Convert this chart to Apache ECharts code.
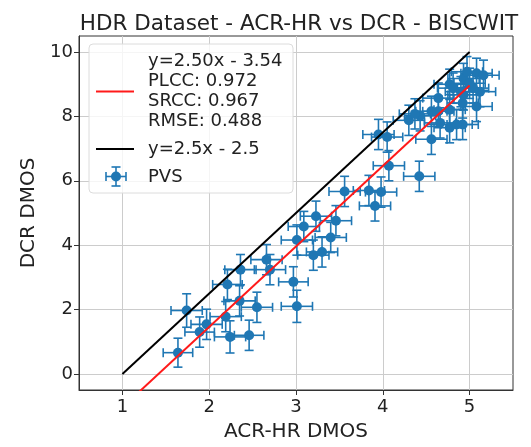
<!DOCTYPE html>
<html>
<head>
<meta charset="utf-8">
<script src="https://cdn.jsdelivr.net/npm/echarts@6/dist/echarts.min.js"></script>
<style>html,body{margin:0;padding:0;background:#fff}#c{width:531px;height:447px}</style>
</head>
<body>
<div id="c"></div>
<script>
// ---- data ----
const acrX = [1.64,1.74,1.89,1.97,2.19,2.24,2.46,2.35,2.55,2.21,2.36,2.66,2.70,2.97,3.01,3.01,3.09,3.23,3.20,3.30,3.40,3.46,3.56,3.84,3.98,3.91,3.95,4.05,4.07,4.42,4.30,4.43,4.37,4.56,4.66,4.77,4.92,4.64,4.64,4.77,4.92,4.77,4.81,4.90,4.93,4.97,5.08,5.16,5.04,5.12,5.00,4.93,5.08,4.56,4.85];
const dcrY = [0.66,1.97,1.30,1.54,1.78,1.15,1.20,2.27,2.07,2.78,3.24,3.55,3.24,2.86,2.10,4.16,4.58,4.90,3.69,3.79,4.24,4.76,5.67,5.70,5.65,5.22,7.44,7.36,6.47,6.14,7.88,8.02,8.08,7.29,7.80,7.65,7.75,8.16,8.57,8.21,8.42,9.00,8.88,8.77,9.18,9.39,9.34,9.28,8.88,8.77,9.03,8.67,8.31,8.16,7.75];
const xErr = [0.17,0.18,0.17,0.18,0.18,0.18,0.17,0.18,0.18,0.17,0.18,0.18,0.18,0.17,0.18,0.18,0.18,0.18,0.18,0.18,0.18,0.18,0.18,0.18,0.18,0.18,0.18,0.18,0.18,0.18,0.18,0.18,0.18,0.18,0.18,0.18,0.18,0.18,0.18,0.18,0.18,0.18,0.18,0.18,0.18,0.18,0.18,0.18,0.18,0.18,0.18,0.18,0.18,0.18,0.18];
const yErr = [0.45,0.52,0.47,0.47,0.47,0.50,0.47,0.47,0.47,0.47,0.47,0.47,0.47,0.47,0.50,0.47,0.47,0.47,0.47,0.47,0.47,0.47,0.47,0.47,0.47,0.47,0.47,0.47,0.47,0.47,0.47,0.47,0.47,0.47,0.47,0.47,0.47,0.47,0.47,0.47,0.47,0.47,0.47,0.47,0.47,0.47,0.47,0.47,0.47,0.47,0.47,0.47,0.47,0.47,0.47];
const xTicks = [1,2,3,4,5];
const yTicks = [0,2,4,6,8,10];
const fitSlope = 2.50, fitIntercept = -3.54;
const refSlope = 2.5, refIntercept = -2.5;
const lineXs = [1,5];
const legendFitLines = ['y=2.50x - 3.54','PLCC: 0.972','SRCC: 0.967','RMSE: 0.488'];
const legendRef = 'y=2.5x - 2.5';
const legendPts = 'PVS';

const BLUE = '#1f77b4';
const RED = '#ff1a1a';
const FONT = 'DejaVu Sans';

const pts = acrX.map((x,i)=>[x, dcrY[i], xErr[i], yErr[i]]);
const fitData = lineXs.map(x=>[x, fitSlope*x+fitIntercept]);
const refData = lineXs.map(x=>[x, refSlope*x+refIntercept]);

const chart = echarts.init(document.getElementById('c'), null, {renderer:'canvas'});
const cap = 4.5;
function errItem(params, api){
  const x = api.value(0), y = api.value(1), ex = api.value(2), ey = api.value(3);
  const l = api.coord([x-ex, y]), r = api.coord([x+ex, y]);
  const t = api.coord([x, y+ey]), b = api.coord([x, y-ey]);
  const st = {stroke: BLUE, lineWidth: 1.6};
  return {type:'group', children:[
    {type:'line', shape:{x1:l[0],y1:l[1],x2:r[0],y2:r[1]}, style:st},
    {type:'line', shape:{x1:l[0],y1:l[1]-cap,x2:l[0],y2:l[1]+cap}, style:st},
    {type:'line', shape:{x1:r[0],y1:r[1]-cap,x2:r[0],y2:r[1]+cap}, style:st},
    {type:'line', shape:{x1:t[0],y1:t[1],x2:b[0],y2:b[1]}, style:st},
    {type:'line', shape:{x1:t[0]-cap,y1:t[1],x2:t[0]+cap,y2:t[1]}, style:st},
    {type:'line', shape:{x1:b[0]-cap,y1:b[1],x2:b[0]+cap,y2:b[1]}, style:st}
  ]};
}

const axisCommon = {
  axisLine:{show:true, onZero:false, lineStyle:{color:'#333', width:1}},
  axisTick:{show:true, length:5, lineStyle:{color:'#333'}},
  axisLabel:{color:'#222', fontSize:18, fontFamily:FONT, margin:6},
  splitLine:{show:true, lineStyle:{color:'#cccccc', width:1}},
  nameLocation:'middle',
  nameTextStyle:{color:'#222', fontSize:20, fontFamily:FONT}
};

const lx = 89, ly = 44, lw = 204, lh = 149;
const legendGraphics = [
  {type:'rect', shape:{x:lx, y:ly, width:lw, height:lh, r:4}, style:{fill:'rgba(255,255,255,0.8)', stroke:'#dcdcdc', lineWidth:1}, z:100},
  {type:'line', shape:{x1:96,y1:91.5,x2:134,y2:91.5}, style:{stroke:RED, lineWidth:2}, z:101},
  {type:'line', shape:{x1:96,y1:149,x2:134,y2:149}, style:{stroke:'#000', lineWidth:2}, z:101},
  {type:'line', shape:{x1:106,y1:176.5,x2:126,y2:176.5}, style:{stroke:BLUE, lineWidth:1.6}, z:101},
  {type:'line', shape:{x1:106,y1:172,x2:106,y2:181}, style:{stroke:BLUE, lineWidth:1.6}, z:101},
  {type:'line', shape:{x1:126,y1:172,x2:126,y2:181}, style:{stroke:BLUE, lineWidth:1.6}, z:101},
  {type:'line', shape:{x1:116,y1:167,x2:116,y2:186}, style:{stroke:BLUE, lineWidth:1.6}, z:101},
  {type:'line', shape:{x1:111.5,y1:167,x2:120.5,y2:167}, style:{stroke:BLUE, lineWidth:1.6}, z:101},
  {type:'line', shape:{x1:111.5,y1:186,x2:120.5,y2:186}, style:{stroke:BLUE, lineWidth:1.6}, z:101},
  {type:'circle', shape:{cx:116, cy:176.5, r:5}, style:{fill:BLUE}, z:102}
];
const rowYs = [61.5, 81.5, 101.5, 121.5];
legendFitLines.forEach((t,i)=>legendGraphics.push({type:'text', x:148, y:rowYs[i], style:{text:t, fill:'#222', font:'18px "DejaVu Sans"', textVerticalAlign:'middle'}, z:101}));
legendGraphics.push({type:'text', x:148, y:149, style:{text:legendRef, fill:'#222', font:'18px "DejaVu Sans"', textVerticalAlign:'middle'}, z:101});
legendGraphics.push({type:'text', x:148, y:177, style:{text:legendPts, fill:'#222', font:'18px "DejaVu Sans"', textVerticalAlign:'middle'}, z:101});

chart.setOption({
  animation:false,
  backgroundColor:'#fff',
  title:{text:'HDR Dataset - ACR-HR vs DCR - BISCWIT', left:294, top:8, textAlign:'center',
    textStyle:{fontSize:21.5, fontWeight:'normal', color:'#222', fontFamily:FONT}},
  grid:{left:79, right:18, top:36, bottom:54, show:true, borderColor:'#333', borderWidth:1, backgroundColor:'transparent'},
  xAxis:Object.assign({}, axisCommon, {type:'value', min:0.5, max:5.5, name:'ACR-HR DMOS', nameGap:32,
    axisTick:Object.assign({}, axisCommon.axisTick, {customValues:xTicks}),
    axisLabel:Object.assign({}, axisCommon.axisLabel, {customValues:xTicks, margin:8})}),
  yAxis:Object.assign({}, axisCommon, {type:'value', min:-0.5, max:10.5, name:'DCR DMOS', nameGap:39,
    axisTick:Object.assign({}, axisCommon.axisTick, {customValues:yTicks}),
    axisLabel:Object.assign({}, axisCommon.axisLabel, {customValues:yTicks})}),
  graphic:legendGraphics,
  series:[
    {type:'custom', data:pts, renderItem:errItem, encode:{x:0,y:1}, z:2, silent:true},
    {type:'scatter', data:pts.map(p=>[p[0],p[1]]), symbolSize:10, itemStyle:{color:BLUE, opacity:1}, z:3},
    {type:'line', data:fitData, symbol:'none', lineStyle:{color:RED, width:2}, z:4, clip:true},
    {type:'line', data:refData, symbol:'none', lineStyle:{color:'#000', width:2}, z:4, clip:true}
  ]
});
</script>
</body>
</html>
